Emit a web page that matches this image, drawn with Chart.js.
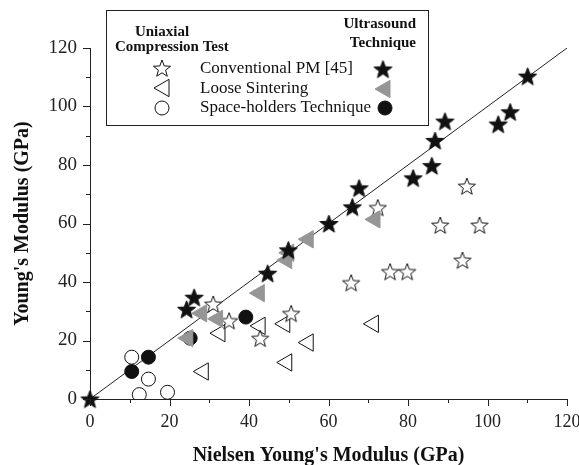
<!DOCTYPE html>
<html>
<head>
<meta charset="utf-8">
<script src="https://cdn.jsdelivr.net/npm/chart.js@4.4.0/dist/chart.umd.min.js"></script>
<style>
  html, body { margin: 0; padding: 0; background: #fff; }
  #wrap { width: 579px; height: 465px; }
</style>
</head>
<body>
<div id="wrap"><canvas id="grafModulo"></canvas></div>
<script>
// Conventional PM - ensayo de compresion (estrellas abiertas)
const convCompX = [42.8, 31, 35, 50.6, 65.7, 72.4, 75.5, 79.8, 88.1, 93.7, 94.8, 98];
const convCompY = [20.8, 32.5, 26.8, 29.3, 39.8, 65.5, 43.6, 43.6, 59.5, 47.5, 72.8, 59.5];
// Conventional PM - ultrasonido (estrellas rellenas)
const convUltraX = [0, 24.3, 26.2, 44.7, 49.9, 60.1, 66, 67.7, 81.3, 86, 86.8, 89.3, 102.7, 105.7, 110.1];
const convUltraY = [0, 30.7, 34.8, 43, 51, 60, 65.7, 72.2, 75.6, 79.8, 88.4, 95, 94, 98.2, 110.4];
// Loose sintering - compresion (triangulos abiertos)
const looseCompX = [28.5, 32.7, 42.8, 49, 49.5, 54.9, 71.3];
const looseCompY = [9.4, 22.5, 25, 25.7, 12.5, 19.3, 25.7];
// Loose sintering - ultrasonido (triangulos grises)
const looseUltraX = [24.6, 28.1, 32.1, 42.6, 49.5, 50, 54.9, 71.7];
const looseUltraY = [20.8, 29.3, 27.4, 36.2, 47.5, 50, 54.6, 61.4];
// Space-holders - compresion (circulos abiertos)
const spaceCompX = [10.5, 12.4, 14.7, 19.5];
const spaceCompY = [14.3, 1.5, 6.8, 2.3];
// Space-holders - ultrasonido (circulos rellenos)
const spaceUltraX = [10.5, 14.7, 25.2, 39.2];
const spaceUltraY = [9.4, 14.3, 20.8, 28];
// linea y = x
const lineaX = [0, 120];
const lineaY = [0, 120];
const ticksEje = [0, 20, 40, 60, 80, 100, 120];

const FUENTE = "'Liberation Serif', 'Times New Roman', serif";
const GRIS = 'rgb(150,150,150)';

function puntos(xs, ys) {
    return xs.map((x, i) => ({ x: x, y: ys[i] }));
}

// estrella de cinco puntas como imagen para pointStyle
function estrella(r, relleno) {
    const c = document.createElement('canvas');
    const s = Math.ceil(r * 2 + 4);
    c.width = s; c.height = s;
    const g = c.getContext('2d');
    g.beginPath();
    for (let i = 0; i < 10; i++) {
        let rad = i % 2 === 0 ? r : r * 0.42;
        let a = -Math.PI / 2 + i * Math.PI / 5;
        g.lineTo(s / 2 + rad * Math.cos(a), s / 2 + 1 + rad * Math.sin(a));
    }
    g.closePath();
    g.fillStyle = relleno;
    g.fill();
    g.lineWidth = 1;
    g.strokeStyle = '#111';
    g.stroke();
    return c;
}

const estrellaLlena = estrella(9.5, '#111');
const estrellaVacia = estrella(9, '#fff');

// triangulo hacia la izquierda
function trianguloIzq(ctx, x, y, r, relleno, borde) {
    ctx.beginPath();
    ctx.moveTo(x - r, y);
    ctx.lineTo(x + r / 2, y - r * 0.866);
    ctx.lineTo(x + r / 2, y + r * 0.866);
    ctx.closePath();
    ctx.fillStyle = relleno;
    ctx.fill();
    ctx.strokeStyle = borde;
    ctx.stroke();
}

function circulo(ctx, x, y, r, relleno) {
    ctx.beginPath();
    ctx.arc(x, y, r, 0, Math.PI * 2);
    ctx.fillStyle = relleno;
    ctx.fill();
    ctx.strokeStyle = '#111';
    ctx.stroke();
}

// marcas de los ejes y leyenda
const extras = {
    id: 'extras',
    afterDraw(chart) {
        const ctx = chart.ctx;
        const xs = chart.scales.x, ys = chart.scales.y;
        ctx.save();
        ctx.strokeStyle = '#222';
        ctx.lineWidth = 1;
        for (let v = 0; v <= 120; v += 10) {
            let largo = v % 20 === 0 ? 7 : 4;
            let px = Math.round(xs.getPixelForValue(v)) + 0.5;
            ctx.beginPath();
            ctx.moveTo(px, xs.top);
            ctx.lineTo(px, xs.top + largo);
            ctx.stroke();
            let py = Math.round(ys.getPixelForValue(v)) + 0.5;
            ctx.beginPath();
            ctx.moveTo(ys.right, py);
            ctx.lineTo(ys.right - largo, py);
            ctx.stroke();
        }

        // leyenda
        ctx.fillStyle = '#fff';
        ctx.fillRect(106, 10, 322, 115);
        ctx.strokeStyle = '#222';
        ctx.strokeRect(106.5, 10.5, 322, 115);

        ctx.fillStyle = '#111';
        ctx.font = 'bold 15px ' + FUENTE;
        ctx.textBaseline = 'middle';
        ctx.textAlign = 'center';
        ctx.fillText('Uniaxial', 162, 32);
        ctx.textAlign = 'left';
        ctx.fillText('Compression Test', 115, 47);
        ctx.textAlign = 'right';
        ctx.fillText('Ultrasound', 416, 24);
        ctx.fillText('Technique', 416, 43);

        ctx.font = '17px ' + FUENTE;
        ctx.textAlign = 'left';
        ctx.fillText('Conventional PM [45]', 200, 69);
        ctx.fillText('Loose Sintering', 200, 89);
        ctx.fillText('Space-holders Technique', 200, 108);

        ctx.drawImage(estrellaVacia, 162 - estrellaVacia.width / 2, 68 - estrellaVacia.height / 2);
        ctx.drawImage(estrellaLlena, 383 - estrellaLlena.width / 2, 69 - estrellaLlena.height / 2);

        trianguloIzq(ctx, 164, 88, 10, '#fff', '#111');
        trianguloIzq(ctx, 385, 89, 10, GRIS, GRIS);
        circulo(ctx, 162, 108, 7, '#fff');
        circulo(ctx, 385, 108, 7, '#111');
        ctx.restore();
    }
};

var ctx = document.getElementById('grafModulo').getContext('2d');

var data = {
    datasets: [
        { label: 'Conventional PM US', data: puntos(convUltraX, convUltraY), pointStyle: estrellaLlena, clip: false },
        { label: 'Loose Sintering US', data: puntos(looseUltraX, looseUltraY), pointStyle: 'triangle', rotation: -90,
          pointRadius: 10, backgroundColor: GRIS, borderColor: GRIS, borderWidth: 1 },
        { label: 'Space-holders US', data: puntos(spaceUltraX, spaceUltraY), pointStyle: 'circle', pointRadius: 7,
          backgroundColor: '#111', borderColor: '#111', borderWidth: 1 },
        { label: 'Conventional PM', data: puntos(convCompX, convCompY), pointStyle: estrellaVacia },
        { label: 'Loose Sintering', data: puntos(looseCompX, looseCompY), pointStyle: 'triangle', rotation: -90,
          pointRadius: 10, backgroundColor: '#fff', borderColor: '#111', borderWidth: 1 },
        { label: 'Space-holders', data: puntos(spaceCompX, spaceCompY), pointStyle: 'circle', pointRadius: 7,
          backgroundColor: '#fff', borderColor: '#111', borderWidth: 1 },
        { label: 'y = x', type: 'line', data: puntos(lineaX, lineaY), borderColor: '#222', borderWidth: 1,
          pointRadius: 0, fill: false }
    ]
};

var options = {
    responsive: true,
    maintainAspectRatio: false,
    animation: false,
    layout: { autoPadding: false, padding: { left: 0, right: 12, top: 48, bottom: 0 } },
    plugins: { legend: { display: false }, tooltip: { enabled: false } },
    scales: {
        x: {
            type: 'linear', min: 0, max: 120,
            afterFit(s) { s.height = 66; s.paddingLeft = 0; s.paddingRight = 0; },
            afterBuildTicks(s) { s.ticks = ticksEje.map(v => ({ value: v })); },
            grid: { display: false },
            border: { display: true, color: '#222', width: 1 },
            ticks: { color: '#222', padding: 4, font: { family: FUENTE, size: 18 } },
            title: { display: true, text: "Nielsen Young's Modulus (GPa)", color: '#111',
                     padding: { top: 0, bottom: -1 }, font: { family: FUENTE, size: 20, weight: 'bold', lineHeight: 1 } }
        },
        y: {
            type: 'linear', min: 0, max: 120,
            afterFit(s) { s.width = 90; s.paddingTop = 0; s.paddingBottom = 0; },
            afterBuildTicks(s) { s.ticks = ticksEje.map(v => ({ value: v })); },
            grid: { display: false },
            border: { display: true, color: '#222', width: 1 },
            ticks: { color: '#222', padding: 5, font: { family: FUENTE, size: 19 } },
            title: { display: true, text: "Young's Modulus (GPa)", color: '#111',
                     padding: { top: 13, bottom: 0 }, font: { family: FUENTE, size: 20, weight: 'bold', lineHeight: 1 } }
        }
    }
};

var miGrafico = new Chart(ctx, { type: 'scatter', data: data, options: options, plugins: [extras] });
</script>
</body>
</html>
